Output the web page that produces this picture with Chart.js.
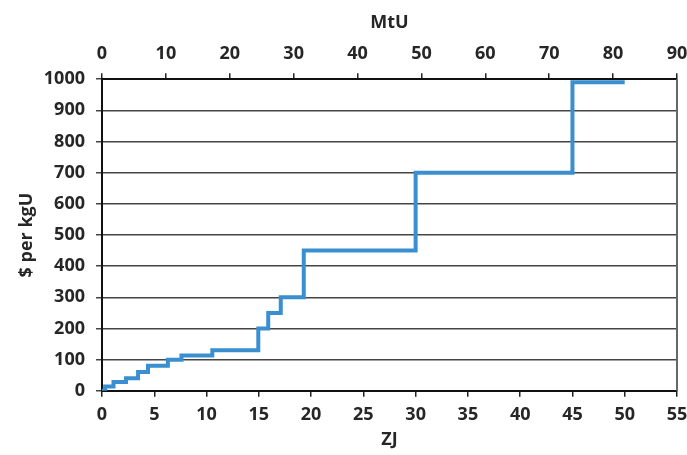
<!DOCTYPE html>
<html>
<head>
<meta charset="utf-8">
<script src="https://cdn.jsdelivr.net/npm/chart.js@4"></script>
<style>
  html, body { margin: 0; padding: 0; background: #fff; }
  #wrap { width: 687px; height: 455px; }
</style>
</head>
<body>
<div id="wrap"><canvas id="grafica" width="687" height="455"></canvas></div>
<script>
// step points: cumulative ZJ where each cost level starts, and the $ per kgU level
const zj = [0, 0.3, 1.1, 2.3, 3.45, 4.4, 6.3, 7.6, 10.55, 14.95, 15.9, 17.1, 19.3, 30, 45, 50];
const costo = [0, 14, 28, 40, 60, 80, 100, 113, 130, 200, 250, 300, 450, 700, 990, 990];

const xTicksZJ = [0, 55, 5];     // min, max, step
const xTicksMtU = [0, 90, 10];
const yTicks = [0, 1000, 100];

const fuente = { family: '"Open Sans", sans-serif', size: 18, weight: 'bold' };
const texto = '#262626';

const puntos = zj.map((x, i) => ({ x, y: costo[i] }));
const sinComa = v => String(v);
const sinMargenDerecho = s => { s.paddingRight = 0; };

// borde derecho del area de trazado
const bordeDerecho = {
  id: 'bordeDerecho',
  afterDraw(chart) {
    const { ctx, chartArea } = chart;
    ctx.save();
    ctx.strokeStyle = '#666';
    ctx.lineWidth = 2;
    ctx.beginPath();
    ctx.moveTo(chartArea.right, chartArea.top);
    ctx.lineTo(chartArea.right, chartArea.bottom);
    ctx.stroke();
    ctx.restore();
  }
};

new Chart(document.getElementById('grafica'), {
  type: 'line',
  data: {
    datasets: [{
      data: puntos,
      stepped: true,
      borderColor: '#3a8fd0',
      borderWidth: 4,
      pointRadius: 0,
      fill: false,
      xAxisID: 'x',
      yAxisID: 'y'
    }]
  },
  options: {
    responsive: false,
    animation: false,
    layout: { padding: { left: 12, right: 10, top: 8, bottom: 0 } },
    plugins: { legend: { display: false }, tooltip: { enabled: false } },
    scales: {
      x: {
        type: 'linear',
        position: 'bottom',
        min: xTicksZJ[0], max: xTicksZJ[1],
        afterFit: sinMargenDerecho,
        ticks: { stepSize: xTicksZJ[2], color: texto, font: fuente, maxRotation: 0, padding: 7, callback: sinComa },
        grid: { drawOnChartArea: false, drawTicks: true, tickLength: 6, color: '#222', lineWidth: 1.5 },
        border: { display: true, color: '#111', width: 2 },
        title: { display: true, text: 'ZJ', color: texto, font: fuente, padding: { top: -3 } }
      },
      x2: {
        type: 'linear',
        position: 'top',
        min: xTicksMtU[0], max: xTicksMtU[1],
        afterFit: sinMargenDerecho,
        ticks: { stepSize: xTicksMtU[2], color: texto, font: fuente, maxRotation: 0, padding: 9, callback: sinComa },
        grid: { drawOnChartArea: false, drawTicks: true, tickLength: 6, color: '#222', lineWidth: 1.5 },
        border: { display: true, color: '#111', width: 2 },
        title: { display: true, text: 'MtU', color: texto, font: fuente, padding: { bottom: 0 } }
      },
      y: {
        type: 'linear',
        position: 'left',
        min: yTicks[0], max: yTicks[1],
        afterFit: s => { s.width = 90; },
        ticks: { stepSize: yTicks[2], color: texto, font: fuente, padding: 11, callback: sinComa },
        grid: { drawOnChartArea: true, drawTicks: true, tickLength: 6, color: '#444', lineWidth: 1.5 },
        border: { display: true, color: '#111', width: 2 },
        title: { display: true, text: '$ per kgU', color: texto, font: fuente, padding: { bottom: 3 } }
      }
    }
  },
  plugins: [bordeDerecho]
});
</script>
</body>
</html>
